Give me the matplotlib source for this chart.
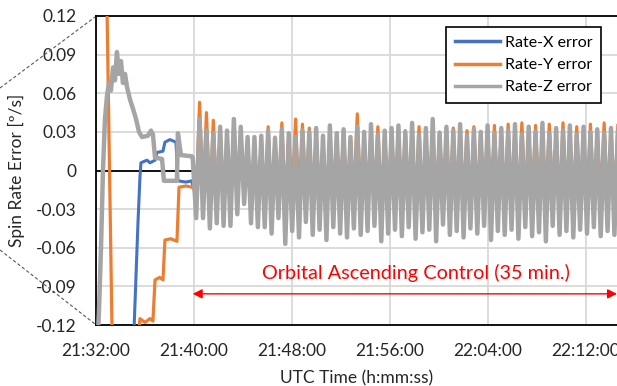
import numpy as np
import matplotlib
matplotlib.use("Agg")
import matplotlib.pyplot as plt
from matplotlib.lines import Line2D

plt.rcParams['font.family'] = ['Lato', 'DejaVu Sans']

# ---------------- data (time in minutes after 21:32:00) ----------------
x_tick_min = [0, 8, 16, 24, 32, 40]
x_tick_labels = ["21:32:00", "21:40:00", "21:48:00", "21:56:00", "22:04:00", "22:12:00"]
y_ticks = [-0.12, -0.09, -0.06, -0.03, 0, 0.03, 0.06, 0.09, 0.12]
y_tick_labels = ["-0.12", "-0.09", "-0.06", "-0.03", "0", "0.03", "0.06", "0.09", "0.12"]

# initial (pre-control) phase
x_early_t = [3.00, 3.10, 3.27, 3.43, 3.59, 3.67, 4.16, 4.41, 4.82, 4.98, 5.47, 5.63, 6.04, 6.53, 6.69, 7.35, 7.84]
x_early_v = [-0.16, -0.125, -0.08, -0.04, -0.005, 0.006, 0.008, 0.006, 0.008, 0.014, 0.015, 0.022, 0.024, 0.022, -0.008, -0.009, -0.008]

y_early_t = [0.00, 0.90, 1.31, 1.60, 3.40, 3.51, 3.59, 4.00, 4.41, 4.65, 4.82, 5.20, 5.47, 5.63, 6.10, 6.61, 6.78, 7.35, 7.84]
y_early_v = [0.25, 0.125, -0.125, -0.20, -0.20, -0.125, -0.115, -0.118, -0.115, -0.117, -0.085, -0.083, -0.085, -0.054, -0.053, -0.055, -0.013, -0.012, -0.013]

z_early_t = [0.00, 0.24, 0.41, 0.57, 0.73, 0.90, 1.06, 1.22, 1.39, 1.55, 1.71, 1.88, 2.04, 2.20, 2.37, 2.53,
             2.78, 3.02, 3.27, 3.51, 3.76, 4.24, 4.49, 4.65, 4.82, 5.39, 5.55, 6.61, 6.69, 6.94, 7.84]
z_early_v = [-0.16, -0.11, -0.06, 0.0, 0.04, 0.058, 0.068, 0.062, 0.080, 0.070, 0.092, 0.075, 0.085, 0.068, 0.075, 0.065,
             0.055, 0.048, 0.040, 0.030, 0.026, 0.027, 0.031, 0.028, 0.010, 0.009, -0.008, -0.008, 0.029, 0.012, 0.011]

# orbital ascending control phase (alternating extremes, evenly sampled)
osc_start_min = 7.9
osc_step_min = 0.28

x_osc = [-0.012, -0.010, 0.030, -0.015, 0.025, -0.018, 0.022, -0.016, 0.020, -0.014, 0.021, -0.017, 0.024, -0.013, 0.019,
         -0.015, 0.018, -0.016, 0.017, -0.014, 0.019, -0.017, 0.022, -0.015, 0.018, -0.013, 0.021, -0.016, 0.019, -0.015,
         0.022, -0.017, 0.020, -0.014, 0.019, -0.016, 0.018, -0.015, 0.017, -0.018, 0.020, -0.013, 0.018, -0.016, 0.021,
         -0.017, 0.016, -0.014, 0.023, -0.016, 0.018, -0.015, 0.020, -0.014, 0.021, -0.017, 0.018, -0.015, 0.019, -0.014,
         0.020, -0.016, 0.019, -0.014, 0.018, -0.017, 0.021, -0.015, 0.017, -0.013, 0.020, -0.016, 0.019, -0.014, 0.018,
         -0.016, 0.020, -0.015, 0.018, -0.014, 0.019, -0.017, 0.021, -0.015, 0.017, -0.013, 0.020, -0.016, 0.022, -0.015,
         0.019, -0.016, 0.021, -0.014, 0.019, -0.017, 0.022, -0.015, 0.018, -0.014, 0.021, -0.017, 0.019, -0.015, 0.021,
         -0.014, 0.018, -0.016, 0.022, -0.015, 0.019, -0.016, 0.021, -0.014, 0.018, -0.015, 0.021, -0.016, 0.019, -0.014,
         0.022, -0.017, 0.019, -0.015, 0.020]

y_osc = [-0.012, -0.020, 0.053, -0.022, 0.045, -0.028, 0.039, -0.025, 0.030, -0.024, 0.028, -0.030, 0.040, -0.022, 0.030,
         -0.020, 0.024, -0.026, 0.020, -0.024, 0.022, -0.028, 0.034, -0.025, 0.026, -0.022, 0.037, -0.027, 0.025, -0.024,
         0.040, -0.028, 0.036, -0.022, 0.033, -0.026, 0.028, -0.024, 0.025, -0.030, 0.030, -0.022, 0.026, -0.025, 0.031,
         -0.028, 0.024, -0.021, 0.044, -0.026, 0.027, -0.024, 0.032, -0.022, 0.034, -0.027, 0.028, -0.025, 0.030, -0.023,
         0.033, -0.026, 0.031, -0.022, 0.029, -0.028, 0.034, -0.024, 0.027, -0.018, 0.032, -0.027, 0.030, -0.023, 0.028,
         -0.026, 0.033, -0.025, 0.029, -0.022, 0.031, -0.028, 0.034, -0.024, 0.026, -0.021, 0.032, -0.027, 0.035, -0.025,
         0.030, -0.026, 0.036, -0.023, 0.031, -0.027, 0.037, -0.024, 0.029, -0.022, 0.035, -0.028, 0.030, -0.025, 0.036,
         -0.023, 0.028, -0.026, 0.037, -0.024, 0.031, -0.027, 0.034, -0.022, 0.029, -0.025, 0.036, -0.026, 0.030, -0.023,
         0.037, -0.027, 0.031, -0.024, 0.035]

z_osc = [0.010, -0.037, 0.040, -0.037, 0.031, -0.045, 0.029, -0.041, 0.034, -0.043, 0.031, -0.043, 0.040, -0.034, 0.034,
         -0.026, 0.026, -0.041, 0.026, -0.044, 0.027, -0.044, 0.031, -0.049, 0.025, -0.037, 0.032, -0.057, 0.029, -0.047,
         0.026, -0.052, 0.031, -0.040, 0.030, -0.050, 0.033, -0.046, 0.027, -0.054, 0.035, -0.044, 0.029, -0.049, 0.032,
         -0.052, 0.026, -0.045, 0.034, -0.050, 0.030, -0.047, 0.036, -0.043, 0.028, -0.055, 0.031, -0.049, 0.033, -0.046,
         0.035, -0.051, 0.030, -0.044, 0.037, -0.053, 0.028, -0.048, 0.033, -0.046, 0.040, -0.055, 0.029, -0.042, 0.034,
         -0.050, 0.031, -0.047, 0.036, -0.052, 0.027, -0.045, 0.032, -0.049, 0.030, -0.043, 0.035, -0.054, 0.029, -0.047,
         0.033, -0.050, 0.031, -0.046, 0.036, -0.053, 0.028, -0.044, 0.034, -0.051, 0.030, -0.048, 0.037, -0.055, 0.029,
         -0.043, 0.033, -0.050, 0.031, -0.047, 0.035, -0.052, 0.028, -0.046, 0.034, -0.049, 0.030, -0.044, 0.032, -0.051,
         0.029, -0.047, 0.033, -0.050, 0.030]

series_names = ["Rate-X error", "Rate-Y error", "Rate-Z error"]
control_label = "Orbital Ascending Control (35 min.)"
control_start_min = 7.9
control_end_min = 42.55

# ---------------- build series ----------------
def build(early_t, early_v, osc):
    t_osc = osc_start_min + osc_step_min * np.arange(len(osc))
    return np.concatenate([early_t, t_osc]), np.concatenate([early_v, osc])

tx, vx = build(x_early_t, x_early_v, x_osc)
ty, vy = build(y_early_t, y_early_v, y_osc)
tz, vz = build(z_early_t, z_early_v, z_osc)

# ---------------- figure ----------------
fig = plt.figure(figsize=(6.17, 3.86), dpi=100)
ax = fig.add_axes([96/617, 1 - 325/386, 1 - 96/617, (325 - 16)/386])

ax.set_xlim(0, 42.55)
ax.set_ylim(-0.12, 0.12)

ax.set_yticks(y_ticks)
ax.set_yticklabels(y_tick_labels)
ax.set_xticks(x_tick_min)
ax.set_xticklabels(x_tick_labels)

ax.grid(True, color='#d9d9d9', linewidth=1.3)
ax.set_axisbelow(True)
ax.axhline(0, color='black', linewidth=1.3, zorder=1.5)

c_blue, c_orange, c_gray = '#4472C4', '#ED7D31', '#A5A5A5'
ax.plot(tx, vx, color=c_blue, linewidth=2.2, label=series_names[0], zorder=3)
ax.plot(ty, vy, color=c_orange, linewidth=2.3, label=series_names[1], zorder=3.1)
ax.plot(tz, vz, color=c_gray, linewidth=3.2, label=series_names[2], zorder=3.2)

for s in ['left', 'bottom', 'top']:
    ax.spines[s].set_color('black')
    ax.spines[s].set_linewidth(1.3)
ax.spines['right'].set_visible(False)

ax.tick_params(axis='both', length=0, labelsize=12.5, colors='#262626')
ax.tick_params(axis='y', pad=14)
ax.tick_params(axis='x', pad=13)
ax.set_ylabel("Spin Rate Error [º/s]", fontsize=12.5, color='#262626', labelpad=8)
ax.set_xlabel("UTC Time (h:mm:ss)", fontsize=12.5, color='#262626', labelpad=8)

leg = ax.legend(loc='upper right', bbox_to_anchor=(0.985, 0.99), fontsize=11.5, frameon=True,
                fancybox=False, edgecolor='black', framealpha=1, handlelength=2.8,
                labelspacing=0.5, borderpad=0.55, handletextpad=0.3)
leg.get_frame().set_linewidth(1.2)
for h in leg.get_lines():
    h.set_linewidth(2.5)

ax.annotate('', xy=(control_end_min, -0.0958), xytext=(control_start_min, -0.0958),
            arrowprops=dict(arrowstyle='<|-|>', color='#FF0000', lw=1.0,
                            mutation_scale=14, shrinkA=0, shrinkB=0), zorder=5)
ax.text((control_start_min + control_end_min) / 2 + 0.9, -0.0795, control_label, color='#FF0000',
        fontsize=14.3, ha='center', va='center', zorder=5)

# zoom connector lines from previous figure
fig.add_artist(Line2D([0, 95/617], [1 - 88/386, 1 - 17/386], color='#595959',
                      linewidth=0.8, linestyle=(0, (3, 2))))
fig.add_artist(Line2D([0, 95/617], [1 - 250/386, 1 - 324/386], color='#595959',
                      linewidth=0.8, linestyle=(0, (3, 2))))

fig.savefig('out.png', dpi=100)
